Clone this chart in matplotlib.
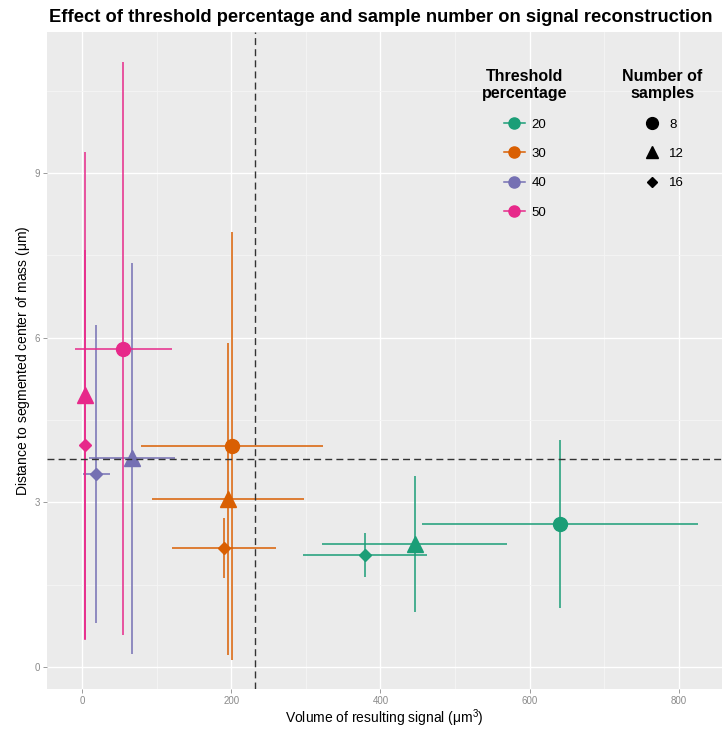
import matplotlib
matplotlib.use("Agg")
import matplotlib.pyplot as plt
from matplotlib.lines import Line2D
from matplotlib.ticker import MultipleLocator

# threshold percentage and number of samples for each point
thresh = [20, 20, 20, 30, 30, 30, 40, 40, 50, 50, 50]
samples = [8, 12, 16, 8, 12, 16, 12, 16, 8, 12, 16]

# volume of resulting signal (um^3) and its spread
vol = [641, 446, 379, 201, 196, 190, 67, 19, 55, 4, 4]
vol_err = [185, 124, 83, 122, 102, 70, 58, 18, 65, 3, 3]

# distance to segmented center of mass (um) and its spread
dist = [2.60, 2.24, 2.04, 4.03, 3.06, 2.17, 3.80, 3.52, 5.80, 4.95, 4.04]
dist_err = [1.53, 1.24, 0.40, 3.90, 2.84, 0.55, 3.56, 2.72, 5.22, 4.43, 3.55]

# reference (dashed) lines
vol_ref = 232
dist_ref = 3.79

thresh_levels = [20, 30, 40, 50]
sample_levels = [8, 12, 16]
colors = {20: "#1B9E77", 30: "#D95F02", 40: "#7570B3", 50: "#E7298A"}
markers = {8: "o", 12: "^", 16: "D"}
msizes = {8: 10, 12: 11, 16: 6.5}

plt.rcParams["font.family"] = ["Liberation Sans", "DejaVu Sans"]

fig = plt.figure(figsize=(7.22, 7.29), dpi=100)
ax = fig.add_axes([47 / 722, 40 / 729, 675 / 722, 657 / 729])
ax.set_facecolor("#EBEBEB")
for s in ax.spines.values():
    s.set_visible(False)

ax.set_xlim(-47, 858)
ax.set_ylim(-0.40, 11.57)
ax.xaxis.set_major_locator(MultipleLocator(200))
ax.xaxis.set_minor_locator(MultipleLocator(100))
ax.yaxis.set_major_locator(MultipleLocator(3))
ax.yaxis.set_minor_locator(MultipleLocator(1.5))
ax.grid(which="major", color="white", linewidth=1.0)
ax.grid(which="minor", color="#F5F5F5", linewidth=0.6)
ax.set_axisbelow(True)
ax.tick_params(which="major", colors="#8A8A8A", labelsize=7, length=3, width=0.6, pad=2)
ax.tick_params(which="minor", length=0)

for x, xe, y, ye, t, n in zip(vol, vol_err, dist, dist_err, thresh, samples):
    c = colors[t]
    ax.errorbar(x, y, xerr=xe, yerr=ye, fmt="none", ecolor=c, elinewidth=1.1,
                capsize=0, zorder=2)
    ax.plot(x, y, marker=markers[n], markersize=msizes[n], color=c,
            linestyle="none", zorder=3)

ax.axvline(vol_ref, color="#333333", linestyle=(0, (5, 3)), linewidth=1.0, zorder=4)
ax.axhline(dist_ref, color="#333333", linestyle=(0, (5, 3)), linewidth=1.0, zorder=4)

ax.set_xlabel("Volume of resulting signal ($\\mathregular{\\mu m^3}$)", fontsize=10, labelpad=1)
ax.set_ylabel("Distance to segmented center of mass ($\\mathregular{\\mu m}$)", fontsize=10, labelpad=2)
fig.text(381 / 722, 1 - 17 / 729, "Effect of threshold percentage and sample number on signal reconstruction",
         ha="center", va="center", fontsize=13.2, fontweight="bold")

h1 = [Line2D([], [], color=colors[t], marker="o", markersize=8, linewidth=1.1) for t in thresh_levels]
leg1 = ax.legend(h1, [str(t) for t in thresh_levels], title="Threshold\npercentage",
                 loc="upper center", bbox_to_anchor=(0.708, 0.962), frameon=False,
                 fontsize=9.5, handlelength=1.6, handletextpad=0.5, labelspacing=1.3,
                 alignment="center",
                 title_fontproperties={"weight": "bold", "size": 11.5})
leg1.get_title().set_multialignment("center")
ax.add_artist(leg1)

h2 = [Line2D([], [], color="black", marker=markers[n], markersize=msizes[n] * 0.85, linestyle="none")
      for n in sample_levels]
leg2 = ax.legend(h2, [str(n) for n in sample_levels], title="Number of\nsamples",
                 loc="upper center", bbox_to_anchor=(0.912, 0.962), frameon=False,
                 fontsize=9.5, handlelength=1.6, handletextpad=0.5, labelspacing=1.3,
                 alignment="center",
                 title_fontproperties={"weight": "bold", "size": 11.5})
leg2.get_title().set_multialignment("center")

fig.savefig("out.png", dpi=100)
